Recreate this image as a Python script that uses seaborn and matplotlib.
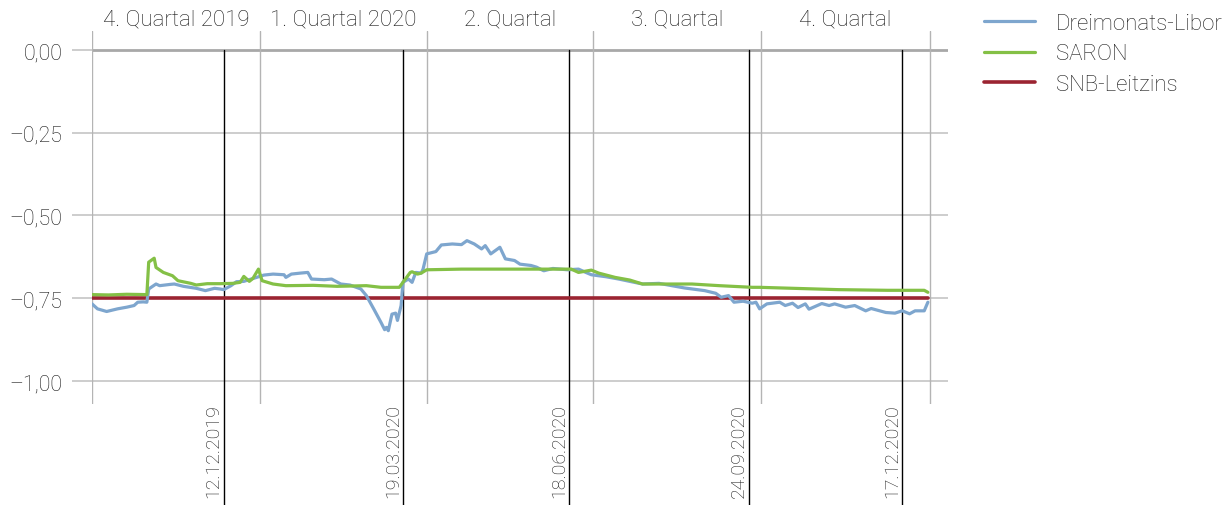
import matplotlib
matplotlib.use("Agg")
import matplotlib.pyplot as plt
import matplotlib.transforms as mtransforms
import seaborn as sns
import pandas as pd
import numpy as np

# ---------------- data ----------------
libor_dates = [
    "2019-10-01", "2019-10-04", "2019-10-09", "2019-10-15", "2019-10-20", "2019-10-24",
    "2019-10-26", "2019-10-29", "2019-10-31", "2019-11-01", "2019-11-05", "2019-11-07",
    "2019-11-13", "2019-11-15", "2019-11-20", "2019-11-27", "2019-12-02", "2019-12-07",
    "2019-12-10", "2019-12-12", "2019-12-16", "2019-12-19", "2019-12-23", "2019-12-27",
    "2019-12-30", "2020-01-03", "2020-01-08", "2020-01-14", "2020-01-15", "2020-01-18",
    "2020-01-23", "2020-01-27", "2020-01-29", "2020-02-05", "2020-02-09", "2020-02-14",
    "2020-02-19", "2020-02-25", "2020-02-28", "2020-03-03", "2020-03-07", "2020-03-09",
    "2020-03-10", "2020-03-11", "2020-03-13", "2020-03-15", "2020-03-16", "2020-03-18",
    "2020-03-19", "2020-03-22", "2020-03-24", "2020-03-26", "2020-03-29", "2020-03-30",
    "2020-04-01", "2020-04-06", "2020-04-09", "2020-04-15", "2020-04-20", "2020-04-23",
    "2020-04-27", "2020-05-01", "2020-05-03", "2020-05-06", "2020-05-11", "2020-05-14",
    "2020-05-19", "2020-05-22", "2020-05-28", "2020-05-31", "2020-06-04", "2020-06-09",
    "2020-06-17", "2020-06-23", "2020-06-27", "2020-06-30", "2020-07-08", "2020-07-15",
    "2020-07-21", "2020-07-28", "2020-08-06", "2020-08-13", "2020-08-20", "2020-08-31",
    "2020-09-06", "2020-09-09", "2020-09-13", "2020-09-16", "2020-09-21", "2020-09-26",
    "2020-09-28", "2020-09-30", "2020-10-04", "2020-10-11", "2020-10-14", "2020-10-18",
    "2020-10-21", "2020-10-25", "2020-10-27", "2020-11-03", "2020-11-07", "2020-11-10",
    "2020-11-16", "2020-11-21", "2020-11-27", "2020-11-30", "2020-12-08", "2020-12-13",
    "2020-12-17", "2020-12-21", "2020-12-24", "2020-12-29", "2020-12-31",
]
libor_values = [
    -0.767, -0.782, -0.790, -0.782, -0.777, -0.772,
    -0.762, -0.761, -0.762, -0.722, -0.707, -0.712,
    -0.708, -0.707, -0.714, -0.720, -0.727, -0.720,
    -0.722, -0.724, -0.712, -0.700, -0.699, -0.692,
    -0.687, -0.680, -0.677, -0.679, -0.687, -0.677,
    -0.674, -0.672, -0.692, -0.694, -0.692, -0.707,
    -0.710, -0.722, -0.742, -0.782, -0.823, -0.845,
    -0.838, -0.848, -0.798, -0.795, -0.817, -0.772,
    -0.702, -0.692, -0.702, -0.672, -0.674, -0.662,
    -0.616, -0.609, -0.589, -0.586, -0.588, -0.576,
    -0.586, -0.601, -0.591, -0.616, -0.596, -0.631,
    -0.636, -0.647, -0.651, -0.656, -0.667, -0.660,
    -0.664, -0.662, -0.672, -0.679, -0.685, -0.692,
    -0.699, -0.707, -0.705, -0.712, -0.719, -0.727,
    -0.735, -0.747, -0.742, -0.762, -0.759, -0.765,
    -0.762, -0.782, -0.767, -0.762, -0.772, -0.765,
    -0.778, -0.767, -0.783, -0.766, -0.772, -0.767,
    -0.777, -0.772, -0.788, -0.781, -0.793, -0.795,
    -0.788, -0.797, -0.788, -0.788, -0.762,
]

saron_dates = [
    "2019-10-01", "2019-10-10", "2019-10-20", "2019-10-31", "2019-11-01", "2019-11-04",
    "2019-11-05", "2019-11-09", "2019-11-14", "2019-11-17", "2019-11-24", "2019-11-27",
    "2019-12-03", "2019-12-10", "2019-12-17", "2019-12-21", "2019-12-23", "2019-12-26",
    "2019-12-28", "2019-12-31", "2020-01-02", "2020-01-08", "2020-01-15", "2020-01-30",
    "2020-02-12", "2020-02-28", "2020-03-07", "2020-03-17", "2020-03-19", "2020-03-23",
    "2020-03-24", "2020-03-27", "2020-03-29", "2020-04-01", "2020-04-20", "2020-05-17",
    "2020-06-12", "2020-06-19", "2020-06-23", "2020-06-30", "2020-07-04", "2020-07-13",
    "2020-07-21", "2020-07-28", "2020-08-06", "2020-08-24", "2020-09-08", "2020-09-26",
    "2020-09-30", "2020-11-12", "2020-12-09", "2020-12-29", "2020-12-31",
]
saron_values = [
    -0.739, -0.740, -0.738, -0.739, -0.641, -0.629,
    -0.657, -0.672, -0.682, -0.697, -0.705, -0.710,
    -0.706, -0.706, -0.705, -0.702, -0.684, -0.699,
    -0.690, -0.662, -0.697, -0.707, -0.712, -0.711,
    -0.714, -0.712, -0.717, -0.717, -0.702, -0.672,
    -0.670, -0.677, -0.674, -0.664, -0.662, -0.662,
    -0.662, -0.662, -0.672, -0.665, -0.674, -0.687,
    -0.695, -0.707, -0.707, -0.707, -0.712, -0.717,
    -0.717, -0.724, -0.726, -0.726, -0.732,
]

snb_dates = ["2019-10-01", "2020-12-31"]
snb_values = [-0.75, -0.75]

quarter_starts = ["2019-10-01", "2020-01-01", "2020-04-01", "2020-07-01", "2020-10-01", "2021-01-01"]
quarter_labels = ["4. Quartal 2019", "1. Quartal 2020", "2. Quartal", "3. Quartal", "4. Quartal"]
meeting_dates = ["2019-12-12", "2020-03-19", "2020-06-18", "2020-09-24", "2020-12-17"]
meeting_labels = ["12.12.2019", "19.03.2020", "18.06.2020", "24.09.2020", "17.12.2020"]
y_ticks = [0.0, -0.25, -0.50, -0.75, -1.00]

series_names = ["Dreimonats-Libor", "SARON", "SNB-Leitzins"]

# ---------------- style ----------------
sns.set_theme(style="white")
plt.rcParams["font.family"] = ["Roboto", "DejaVu Sans"]

COL_LIBOR = "#7EA6CE"
COL_SARON = "#84C046"
COL_SNB = "#9B2431"
GRID = "#CDCDCD"
ZERO = "#A8A8A8"
QLINE = "#B4B4B4"
TXT = "#1A1A1A"
FS = 16
FW = "light"

fig = plt.figure(figsize=(12.31, 5.06), dpi=100)
ax = fig.add_axes([92 / 1231, 1 - 405 / 506, (948 - 92) / 1231, (405 - 32) / 506])

ylo, yhi = -1.0695, 0.0574
ax.set_ylim(ylo, yhi)
xmin = pd.Timestamp("2019-10-01")
xmax = pd.Timestamp("2021-01-11")
ax.set_xlim(xmin, xmax)

# horizontal grid lines (extend left as ticks)
for v in y_ticks:
    if v == 0:
        ax.axhline(v, color=ZERO, lw=2.0, zorder=1)
    else:
        ax.axhline(v, color=GRID, lw=1.4, zorder=1)

# quarter separators
for q in quarter_starts:
    ax.axvline(pd.Timestamp(q), color=QLINE, lw=1.0, zorder=1)

# meeting lines (extend below axes)
zero_frac = (0 - ylo) / (yhi - ylo)
for d, lab in zip(meeting_dates, meeting_labels):
    ax.axvline(pd.Timestamp(d), ymin=-0.28, ymax=zero_frac, color="black", lw=1.0,
               clip_on=False, zorder=2)
    trans = mtransforms.offset_copy(ax.get_xaxis_transform(), fig=fig, x=-1, y=1, units="dots")
    ax.text(pd.Timestamp(d), 0.0, lab, rotation=90, ha="right", va="top",
            fontsize=14, color=TXT, transform=trans, fontweight=FW)

# quarter labels
for i, lab in enumerate(quarter_labels):
    a = pd.Timestamp(quarter_starts[i])
    b = pd.Timestamp(quarter_starts[i + 1])
    mid = a + (b - a) / 2
    ax.text(mid, 1 + 12 / 373, lab, ha="center", va="center", fontsize=FS, color=TXT,
            transform=ax.get_xaxis_transform(), clip_on=False, fontweight=FW)

# series
df_l = pd.DataFrame({"date": pd.to_datetime(libor_dates), "value": libor_values})
df_s = pd.DataFrame({"date": pd.to_datetime(saron_dates), "value": saron_values})
df_n = pd.DataFrame({"date": pd.to_datetime(snb_dates), "value": snb_values})

sns.lineplot(data=df_l, x="date", y="value", ax=ax, color=COL_LIBOR, lw=2.3,
             label=series_names[0], zorder=4)
sns.lineplot(data=df_s, x="date", y="value", ax=ax, color=COL_SARON, lw=2.3,
             label=series_names[1], zorder=5)
sns.lineplot(data=df_n, x="date", y="value", ax=ax, color=COL_SNB, lw=2.6,
             label=series_names[2], zorder=3)

# axes cosmetics
for s in ax.spines.values():
    s.set_visible(False)
ax.set_xlabel("")
ax.set_ylabel("")
ax.set_xticks([])
ax.set_yticks(y_ticks)
ax.set_yticklabels([f"{v:.2f}".replace(".", ",").replace("-", "\u2013") for v in y_ticks],
                   fontsize=15.5, color=TXT, fontweight=FW)
ax.tick_params(axis="y", length=14.4, width=1.4, color=GRID, pad=7, left=True)
ax.grid(False)

leg = ax.legend(loc="upper left", bbox_to_anchor=(984 / 1231, 1 - 14 / 506),
                bbox_transform=fig.transFigure, frameon=False, fontsize=FS,
                handlelength=2.3, handletextpad=0.95, labelspacing=0.42, borderaxespad=0,
                borderpad=0)
for t in leg.get_texts():
    t.set_color(TXT)
    t.set_fontweight(FW)

fig.savefig("out.png", dpi=100)
